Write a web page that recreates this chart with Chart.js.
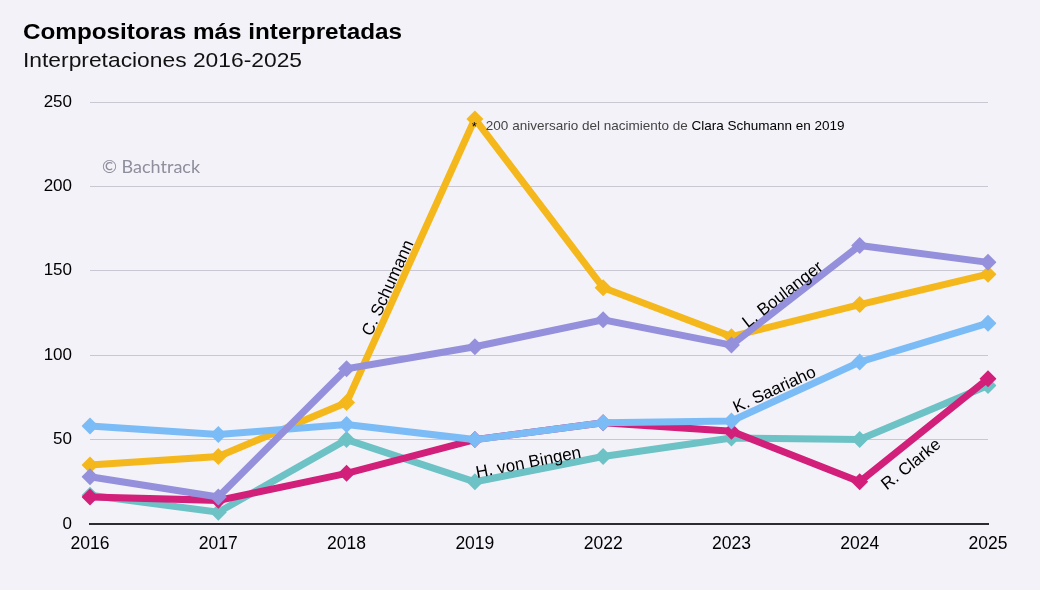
<!DOCTYPE html>
<html><head><meta charset="utf-8">
<script src="https://cdn.jsdelivr.net/npm/chart.js@4"></script>
<style>html,body{margin:0;padding:0;background:#f3f2f8;}#wrap{width:1040px;height:590px;}</style>
</head><body><div id="wrap"><canvas id="c" width="1040" height="590"></canvas></div>
<script>
const years = ['2016','2017','2018','2019','2022','2023','2024','2025'];
const yTicks = [0,50,100,150,200,250];
const schumann  = [35, 40, 72, 240, 140, 111, 130, 148];
const boulanger = [28, 16, 92, 105, 121, 106, 165, 155];
const saariaho  = [58, 53, 59, 50, 60, 61, 96, 119];
const bingen    = [17, 7, 50, 25, 40, 51, 50, 82];
const clarke    = [16, 14, 30, 50, 60, 55, 25, 86];
const seriesNames = ['C. Schumann','L. Boulanger','K. Saariaho','H. von Bingen','R. Clarke'];
const title = 'Compositoras más interpretadas';
const subtitle = 'Interpretaciones 2016-2025';
const credit = '© Bachtrack';
const noteGrey = '200 aniversario del nacimiento de ';
const noteDark = 'Clara Schumann en 2019';

const FONT = '"Liberation Sans", Arial, Helvetica, sans-serif';

function ds(label, data, color, order){
  return {label, data, borderColor: color, backgroundColor: color, borderWidth: 7,
    pointStyle: 'rectRot', pointRadius: 8.5, pointHoverRadius: 8.5, pointBorderWidth: 0,
    tension: 0, order};
}

// label placement: dataset index, segment start index, fraction t, perpendicular offset
const labelSpecs = [
  {ds:0, seg:2, t:0.39, off:9},
  {ds:1, seg:5, t:0.44, off:8},
  {ds:2, seg:5, t:0.37, off:10},
  {ds:3, seg:3, t:0.43, off:8},
  {ds:4, seg:6, t:0.31, off:-19},
];

function fitText(ctx, text, x, y, width){
  const w = ctx.measureText(text).width;
  ctx.save();
  ctx.translate(x, y);
  ctx.scale(width / w, 1);
  ctx.fillText(text, 0, 0);
  ctx.restore();
}

const overlay = {
  id: 'overlay',
  beforeDraw(chart){
    const ctx = chart.ctx;
    ctx.save();
    ctx.fillStyle = '#f3f2f8';
    ctx.fillRect(0,0,chart.width,chart.height);
    ctx.fillStyle = '#000';
    ctx.textBaseline = 'alphabetic';
    ctx.textAlign = 'left';
    ctx.font = 'bold 22px ' + FONT;
    fitText(ctx, title, 23, 39, 379);
    ctx.font = '21px ' + FONT;
    ctx.fillStyle = '#111';
    fitText(ctx, subtitle, 23, 67, 279);
    ctx.font = '18px Lato, "Noto Sans", sans-serif';
    ctx.fillStyle = '#8e8e9c';
    ctx.fillText(credit, 102, 173);
    ctx.restore();
  },
  afterDatasetsDraw(chart){
    const ctx = chart.ctx;
    ctx.save();
    ctx.font = '17px ' + FONT;
    ctx.fillStyle = '#000';
    ctx.textAlign = 'center';
    ctx.textBaseline = 'middle';
    labelSpecs.forEach((s, i) => {
      const meta = chart.getDatasetMeta(s.ds);
      const p0 = meta.data[s.seg], p1 = meta.data[s.seg+1];
      const ang = Math.atan2(p1.y - p0.y, p1.x - p0.x);
      const x = p0.x + (p1.x - p0.x) * s.t;
      const y = p0.y + (p1.y - p0.y) * s.t;
      ctx.save();
      ctx.translate(x, y);
      ctx.rotate(ang);
      ctx.fillText(seriesNames[i], 0, -s.off);
      ctx.restore();
    });
    // annotation at Schumann peak
    const peak = chart.getDatasetMeta(0).data[3];
    ctx.textAlign = 'left';
    ctx.textBaseline = 'alphabetic';
    ctx.font = '13px ' + FONT;
    ctx.fillStyle = '#000';
    ctx.fillText('*', peak.x - 3, peak.y + 12);
    ctx.font = '13.5px ' + FONT;
    ctx.fillStyle = '#444';
    const x0 = peak.x + 11;
    ctx.fillText(noteGrey, x0, peak.y + 11);
    const w = ctx.measureText(noteGrey).width;
    ctx.fillStyle = '#000';
    ctx.fillText(noteDark, x0 + w, peak.y + 11);
    ctx.restore();
  }
};

new Chart(document.getElementById('c'), {
  type: 'line',
  data: {
    labels: years,
    datasets: [
      ds(seriesNames[0], schumann, '#f5b81c', 3),
      ds(seriesNames[1], boulanger, '#9590dc', 0),
      ds(seriesNames[2], saariaho, '#7cbcf6', 1),
      ds(seriesNames[3], bingen, '#6dc2c6', 4),
      ds(seriesNames[4], clarke, '#d21f7a', 2),
    ]
  },
  options: {
    responsive: false,
    animation: false,
    devicePixelRatio: 1,
    layout: {padding: {left: 0, right: 52, top: 102, bottom: 0}},
    plugins: {legend: {display: false}, tooltip: {enabled: false}},
    scales: {
      x: {
        offset: false,
        grid: {display: false, drawTicks: false},
        border: {display: true, color: '#2b2b33', width: 2},
        ticks: {color: '#000', font: {size: 17.5, family: FONT}, padding: 10, maxRotation: 0, autoSkip: false},
        afterFit(scale){ scale.height = 66; }
      },
      y: {
        min: 0, max: 250,
        afterBuildTicks(scale){ scale.ticks = yTicks.map(v => ({value: v})); },
        grid: {color: '#c9c8d2', lineWidth: 1, drawTicks: false},
        border: {display: false},
        ticks: {color: '#000', font: {size: 17, family: FONT}, padding: 18},
        afterFit(scale){ scale.width = 90; }
      }
    }
  },
  plugins: [overlay]
});
</script>
</body></html>
